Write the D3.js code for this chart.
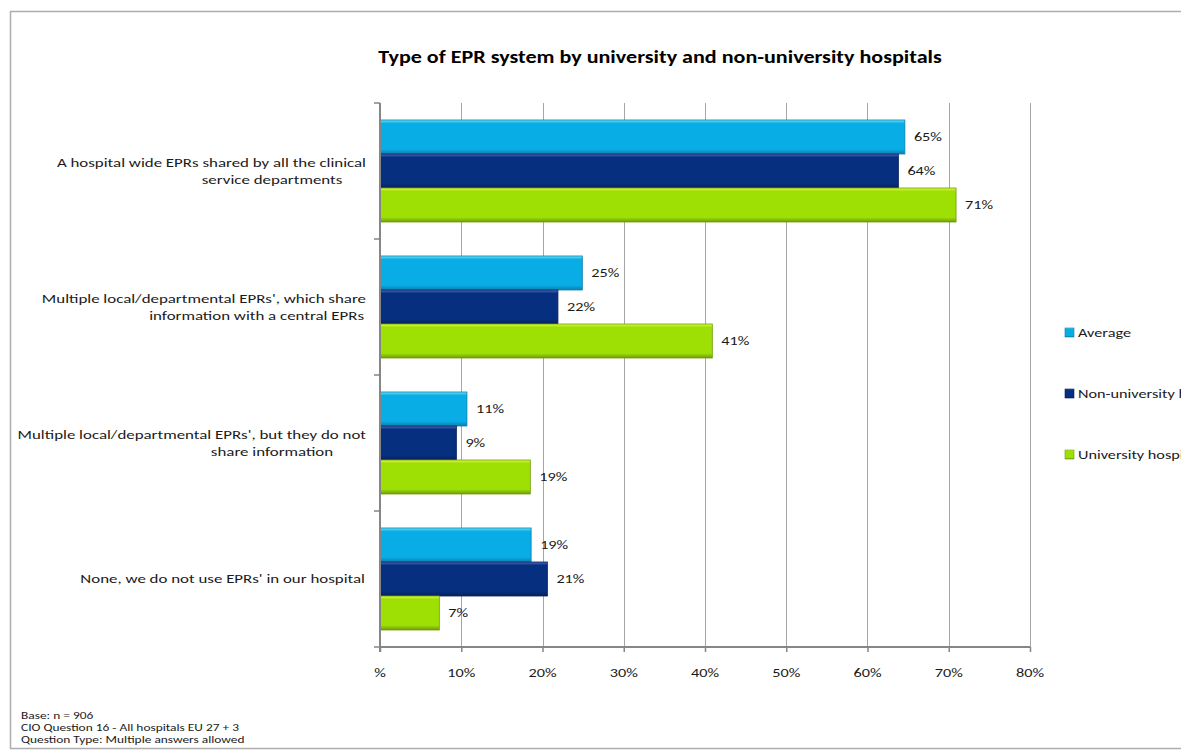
<!DOCTYPE html>
<html><head><meta charset="utf-8">
<script src="https://cdn.jsdelivr.net/npm/d3@7"></script>
<style>
html,body{margin:0;padding:0;background:#fff;}
svg{display:block;font-family:Carlito,Lato,"Open Sans",sans-serif;}
</style></head>
<body>
<svg id="chart" width="1181" height="756"></svg>
<script>
const title = "Type of EPR system by university and non-university hospitals";
const categories = [
  ["A hospital wide EPRs shared by all the clinical", "service departments"],
  ["Multiple local/departmental EPRs', which share", "information with  a central EPRs"],
  ["Multiple local/departmental EPRs',  but they do not", "share information"],
  ["None, we do not use EPRs' in our hospital"]
];
const seriesNames = ["Average", "Non-university hospitals", "University hospitals"];
const average       = [0.646, 0.249, 0.107, 0.186];
const nonUniversity = [0.638, 0.219, 0.094, 0.206];
const university    = [0.709, 0.409, 0.185, 0.073];
const valueLabels = [
  ["65%","64%","71%"],
  ["25%","22%","41%"],
  ["11%","9%","19%"],
  ["19%","21%","7%"]
];
const tickValues = [0,0.1,0.2,0.3,0.4,0.5,0.6,0.7,0.8];
const tickLabels = ["%","10%","20%","30%","40%","50%","60%","70%","80%"];
const footer = ["Base: n = 906","CIO Question 16 - All hospitals EU 27 + 3","Question Type: Multiple answers allowed"];

(function(){
const SX = 1.3; // horizontal stretch of the reference text
const colors = [
  {light:"#6BE6FB", main:"#08ADE6", dark:"#0B7FAE"},
  {light:"#4A6CC0", main:"#062F7F", dark:"#06215C"},
  {light:"#DDF84A", main:"#9EE003", dark:"#6E9C0E"}
];
const seriesData = [average, nonUniversity, university];

const svg = d3.select("#chart");
const defs = svg.append("defs");
colors.forEach((c,i)=>{
  const g = defs.append("linearGradient").attr("id","g"+i).attr("x1",0).attr("y1",0).attr("x2",0).attr("y2",1);
  g.append("stop").attr("offset","0%").attr("stop-color",c.light);
  g.append("stop").attr("offset","10%").attr("stop-color",c.main);
  g.append("stop").attr("offset","86%").attr("stop-color",c.main);
  g.append("stop").attr("offset","100%").attr("stop-color",c.dark);
});

function txt(parent, x, y, s, size, anchor, weight){
  const g = parent.append("g").attr("transform",`translate(${x},${y}) scale(${SX},1)`);
  return g.append("text").attr("x",0).attr("y",0).attr("text-anchor",anchor||"start")
    .attr("font-size",size).attr("font-weight",weight||"normal").attr("fill","#1a1a1a").text(s);
}

svg.append("rect").attr("x",10.5).attr("y",11.5).attr("width",1300).attr("height",737)
  .attr("fill","none").attr("stroke","#ADADAD").attr("stroke-width",1.5);

const pLeft = 380, pRight = 1030, pTop = 103, pBottom = 647;
const x = d3.scaleLinear().domain([0,0.8]).range([pLeft,pRight]);
const y = d3.scaleBand().domain(d3.range(categories.length)).range([pTop,pBottom]).paddingInner(0.25).paddingOuter(0.125);
const ys = d3.scaleBand().domain(d3.range(3)).range([0,y.bandwidth()]);

txt(svg, 660, 63, title, 17, "middle", "bold").attr("fill","#000");

svg.append("g").selectAll("line").data(tickValues.slice(1)).join("line")
  .attr("x1",d=>Math.round(x(d))+0.5).attr("x2",d=>Math.round(x(d))+0.5)
  .attr("y1",pTop).attr("y2",pBottom).attr("stroke","#A6A6A6").attr("stroke-width",1);

categories.forEach((cat,ci)=>{
  seriesData.forEach((s,si)=>{
    const y0 = y(ci)+ys(si);
    svg.append("rect").attr("x",x(0)).attr("y",y0)
      .attr("width",x(s[ci])-x(0)).attr("height",ys.bandwidth())
      .attr("fill","url(#g"+si+")").attr("stroke",colors[si].dark).attr("stroke-width",0.8);
    txt(svg, x(s[ci])+9, y0+ys.bandwidth()/2+4, valueLabels[ci][si], 12.5);
  });
});

const xAxis = d3.axisBottom(x).tickValues(tickValues).tickFormat("").tickSize(5);
const gx = svg.append("g").attr("transform",`translate(0,${pBottom})`).call(xAxis);
gx.select(".domain").attr("stroke","#868686").attr("stroke-width",2).attr("d",`M${pLeft},0H${pRight}`);
gx.selectAll(".tick line").attr("stroke","#868686").attr("stroke-width",1.5);
tickValues.forEach((v,i)=>{ txt(svg, x(v), pBottom+30, tickLabels[i], 12.5, "middle"); });

const boundaries = d3.range(categories.length+1).map(i=> pTop + i*y.step());
svg.append("line").attr("x1",pLeft).attr("x2",pLeft).attr("y1",pTop).attr("y2",pBottom+5)
  .attr("stroke","#868686").attr("stroke-width",2);
svg.append("g").selectAll("line").data(boundaries).join("line")
  .attr("x1",pLeft-6).attr("x2",pLeft).attr("y1",d=>d).attr("y2",d=>d)
  .attr("stroke","#868686").attr("stroke-width",1.5);

categories.forEach((lines,ci)=>{
  const cy = y(ci)+y.bandwidth()/2;
  if(lines.length===1){
    txt(svg, 365, cy+4, lines[0], 13, "end");
  } else {
    txt(svg, 366, cy-4, lines[0], 13, "end");
    const t = txt(svg, 0, cy+13, lines[1], 13, "start");
    const w = t.node().getComputedTextLength()*SX;
    const left = Math.min(272 - w/2, 364 - w);
    d3.select(t.node().parentNode).attr("transform",`translate(${left},${cy+13}) scale(${SX},1)`);
  }
});

const legendY = [333, 394, 455];
seriesNames.forEach((n,i)=>{
  svg.append("rect").attr("x",1065).attr("y",legendY[i]-5).attr("width",9).attr("height",9)
    .attr("fill","url(#g"+i+")").attr("stroke",colors[i].dark).attr("stroke-width",0.6);
  txt(svg, 1078, legendY[i]+4, n, 12.5);
});

footer.forEach((t,i)=>{ txt(svg, 21, 719+i*12, t, 10.3); });
})();
</script>
</body></html>
